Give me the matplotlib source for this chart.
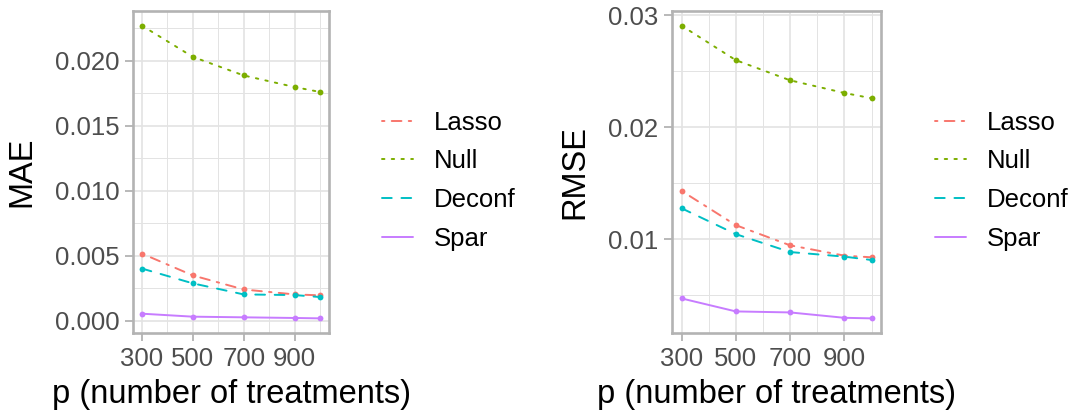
import matplotlib
matplotlib.use("Agg")
import matplotlib.pyplot as plt
from matplotlib.ticker import FixedLocator, FormatStrFormatter

# ---- data ----
p_values = [300, 500, 700, 900, 1000]
methods = ["Lasso", "Null", "Deconf", "Spar"]
mae_lasso = [0.00516, 0.00348, 0.00240, 0.00202, 0.00195]
mae_null = [0.02268, 0.02028, 0.01885, 0.01796, 0.01758]
mae_deconf = [0.00401, 0.00287, 0.00202, 0.00197, 0.00182]
mae_spar = [0.00054, 0.00031, 0.00026, 0.00021, 0.00018]
rmse_lasso = [0.01433, 0.01127, 0.00947, 0.00855, 0.00840]
rmse_null = [0.02908, 0.02600, 0.02420, 0.02307, 0.02260]
rmse_deconf = [0.01278, 0.01047, 0.00887, 0.00846, 0.00816]
rmse_spar = [0.00473, 0.00357, 0.00348, 0.00300, 0.00295]
x_ticks = [300, 500, 700, 900]
x_minor = [400, 600, 800, 1000]
mae_ticks = [0.000, 0.005, 0.010, 0.015, 0.020]
mae_minor = [0.0025, 0.0075, 0.0125, 0.0175, 0.0225]
rmse_ticks = [0.01, 0.02, 0.03]
rmse_minor = [0.005, 0.015, 0.025]

# ---- styles ----
colors = {"Lasso": "#F8766D", "Null": "#7CAE00", "Deconf": "#00BFC4", "Spar": "#C77CFF"}
styles = {"Lasso": (0, (1.25, 3.75, 5, 3.75)), "Null": (0, (1.25, 3.75)),
          "Deconf": (0, (5, 5)), "Spar": "solid"}
LW = 1.4
GRID = "#E3E3E3"
BORDER = "#B3B3B3"
TICKC = "#4D4D4D"

plt.rcParams["font.family"] = ["Liberation Sans", "DejaVu Sans"]

fig = plt.figure(figsize=(10.76, 4.18), dpi=100)
H = 418.0
W = 1076.0


def make_axes(x0, x1, y0, y1):
    return fig.add_axes([x0 / W, 1 - y1 / H, (x1 - x0) / W, (y1 - y0) / H])


def draw_panel(ax, series, yticks, yminor, fmt, ylabel, ylabel_x, legend_x):
    allv = [v for s in series for v in s]
    lo, hi = min(allv), max(allv)
    pad = (hi - lo) * 0.05
    xlo, xhi = min(p_values), max(p_values)
    xpad = (xhi - xlo) * 0.05
    ax.set_xlim(xlo - xpad, xhi + xpad)
    ax.set_ylim(lo - pad, hi + pad)
    for name, vals in zip(methods, series):
        ax.plot(p_values, vals, color=colors[name], linestyle=styles[name], lw=LW,
                dash_capstyle="round", solid_capstyle="round", label=name, zorder=3)
        ax.plot(p_values, vals, linestyle="none", marker="o", ms=4.2,
                color=colors[name], mec="none", zorder=4)
    ax.xaxis.set_major_locator(FixedLocator(x_ticks))
    ax.xaxis.set_minor_locator(FixedLocator(x_minor))
    ax.yaxis.set_major_locator(FixedLocator(yticks))
    ax.yaxis.set_minor_locator(FixedLocator(yminor))
    ax.yaxis.set_major_formatter(FormatStrFormatter(fmt))
    ax.grid(True, which="major", color=GRID, lw=1.2, zorder=0)
    ax.grid(True, which="minor", color=GRID, lw=0.7, zorder=0)
    ax.set_axisbelow(True)
    for sp in ax.spines.values():
        sp.set_color(BORDER)
        sp.set_linewidth(1.9)
    ax.tick_params(which="major", length=5.8, width=1.3, color=BORDER,
                   labelsize=18.5, labelcolor=TICKC, pad=4)
    ax.tick_params(which="minor", length=0)
    ax.set_xlabel("p (number of treatments)", fontsize=23.5, color="black", labelpad=6)
    ax.set_ylabel(ylabel, fontsize=23.5, color="black")
    ax.yaxis.set_label_coords(ylabel_x, 0.5)
    leg = ax.legend(loc="center left", bbox_to_anchor=(legend_x / W, 1 - 180.7 / H),
                    bbox_transform=fig.transFigure, frameon=False, fontsize=18.5,
                    handlelength=1.2, handletextpad=0.8, labelspacing=0.57,
                    borderpad=0, borderaxespad=0)
    return leg


ax1 = make_axes(133, 329, 11, 333)
draw_panel(ax1, [mae_lasso, mae_null, mae_deconf, mae_spar], mae_ticks, mae_minor,
           "%.3f", "MAE", -0.49, 382)

ax2 = make_axes(672, 881, 11, 333)
draw_panel(ax2, [rmse_lasso, rmse_null, rmse_deconf, rmse_spar], rmse_ticks, rmse_minor,
           "%.2f", "RMSE", -0.389, 935)

fig.savefig("out.png", dpi=100)
